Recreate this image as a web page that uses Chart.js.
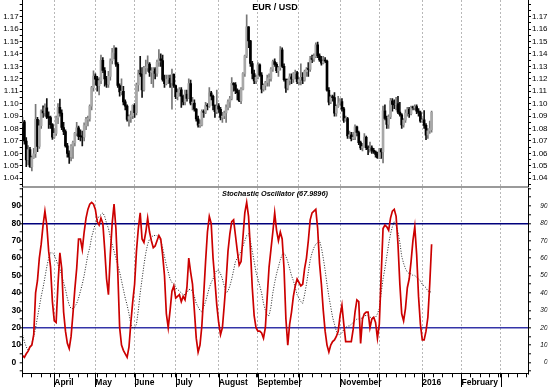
<!DOCTYPE html>
<html>
<head>
<meta charset="utf-8">
<title>EUR / USD</title>
<script src="https://cdn.jsdelivr.net/npm/chart.js@4.4.1/dist/chart.umd.min.js"></script>
<style>
  html, body { margin: 0; padding: 0; background: #fff; }
  #wrap { position: relative; width: 550px; height: 387px; overflow: hidden; }
  canvas { position: absolute; left: 0; }
  #priceChart { top: 0; }
  #stochChart { top: 188px; }
  .title { position: absolute; left: 0; width: 550px; text-align: center; font-family: "Liberation Sans", Arial, sans-serif;
           font-weight: bold; color: #000; line-height: 1; white-space: nowrap; }
  #priceTitle { top: 3px; font-size: 9px; }
  #stochTitle { top: 190px; font-size: 7.3px; font-style: italic; }
</style>
</head>
<body>
<div id="wrap">
  <canvas id="priceChart" width="550" height="188"></canvas>
  <canvas id="stochChart" width="550" height="199"></canvas>
  <div class="title" id="priceTitle">EUR / USD</div>
  <div class="title" id="stochTitle">Stochastic Oscillator (67.9896)</div>
</div>
<script>
Chart.defaults.font.family = '"Liberation Sans", Arial, sans-serif';
Chart.defaults.color = '#000';
Chart.defaults.animation = false;

// one bar per weekday, first bar Monday 9 March 2015, last bar 8 January 2016
const firstDay = Date.UTC(2015, 2, 9);
const axisDays = 271;
const monthLabels = ['April', 'May', 'June', 'July', 'August', 'September', '', 'November', '', '2016', 'February', ''];
const priceTicks = [1.04, 1.05, 1.06, 1.07, 1.08, 1.09, 1.10, 1.11, 1.12, 1.13, 1.14, 1.15, 1.16, 1.17];
const stochTicks = [0, 10, 20, 30, 40, 50, 60, 70, 80, 90];
const stochLevels = [80, 20];

const opens = [
  1.0842, 1.0853, 1.0700, 1.0548, 1.0630, 1.0494, 1.0566, 1.0597, 1.0874, 1.0656,
  1.0822, 1.0940, 1.0926, 1.0967, 1.0891, 1.0888, 1.0831, 1.0731, 1.0761, 1.0887,
  1.0970, 1.0924, 1.0808, 1.0776, 1.0660, 1.0600, 1.0569, 1.0659, 1.0686, 1.0763,
  1.0805, 1.0737, 1.0735, 1.0730, 1.0823, 1.0873, 1.0880, 1.0980, 1.1129, 1.1222,
  1.1198, 1.1145, 1.1185, 1.1348, 1.1267, 1.1199, 1.1155, 1.1219, 1.1345, 1.1408,
  1.1447, 1.1317, 1.1146, 1.1094, 1.1100, 1.1014, 1.0980, 1.0874, 1.0897, 1.0903,
  1.0987, 1.0927, 1.1151, 1.1245, 1.1237, 1.1111, 1.1288, 1.1288, 1.1318, 1.1251,
  1.1265, 1.1281, 1.1244, 1.1333, 1.1360, 1.1347, 1.1196, 1.1160, 1.1196, 1.1205,
  1.1164, 1.1236, 1.1146, 1.1056, 1.1090, 1.1111, 1.1060, 1.1014, 1.1077, 1.1042,
  1.1161, 1.1005, 1.1005, 1.0956, 1.0878, 1.0828, 1.0830, 1.0936, 1.0930, 1.0984,
  1.0979, 1.1087, 1.1060, 1.0985, 1.0935, 1.0983, 1.0955, 1.0890, 1.0901, 1.0925,
  1.0969, 1.1015, 1.1040, 1.1163, 1.1151, 1.1106, 1.1088, 1.1023, 1.1117, 1.1243,
  1.1385, 1.1618, 1.1505, 1.1323, 1.1243, 1.1184, 1.1211, 1.1313, 1.1230, 1.1117,
  1.1147, 1.1170, 1.1202, 1.1203, 1.1278, 1.1338, 1.1316, 1.1265, 1.1290, 1.1434,
  1.1300, 1.1194, 1.1125, 1.1187, 1.1215, 1.1197, 1.1242, 1.1251, 1.1176, 1.1194,
  1.1212, 1.1189, 1.1258, 1.1277, 1.1275, 1.1359, 1.1355, 1.1380, 1.1474, 1.1384,
  1.1351, 1.1326, 1.1344, 1.1342, 1.1108, 1.1012, 1.1056, 1.1049, 1.0924, 1.0978,
  1.1005, 1.1016, 1.0958, 1.0865, 1.0880, 1.0740, 1.0750, 1.0719, 1.0730, 1.0814,
  1.0768, 1.0687, 1.0643, 1.0654, 1.0730, 1.0646, 1.0633, 1.0645, 1.0624, 1.0612,
  1.0592, 1.0565, 1.0631, 1.0612, 1.0942, 1.0881, 1.0834, 1.0893, 1.1023, 1.0993,
  1.0990, 1.1000, 1.0932, 1.0911, 1.0830, 1.0867, 1.0924, 1.0956, 1.0920, 1.0970,
  1.0965, 1.0976, 1.0940, 1.0929, 1.0860, 1.0870, 1.0825, 1.0746, 1.0781, 1.0790
];
const highs = [
  1.0890, 1.0866, 1.0727, 1.0662, 1.0648, 1.0578, 1.0640, 1.0995, 1.0890, 1.0868,
  1.0950, 1.0982, 1.0998, 1.1040, 1.0935, 1.0900, 1.0840, 1.0800, 1.0900, 1.1000,
  1.1037, 1.0950, 1.0850, 1.0790, 1.0680, 1.0620, 1.0670, 1.0700, 1.0770, 1.0849,
  1.0820, 1.0790, 1.0780, 1.0845, 1.0890, 1.0900, 1.0990, 1.1140, 1.1265, 1.1240,
  1.1220, 1.1210, 1.1390, 1.1370, 1.1290, 1.1220, 1.1260, 1.1360, 1.1445, 1.1467,
  1.1450, 1.1330, 1.1160, 1.1200, 1.1140, 1.1030, 1.0990, 1.0910, 1.0940, 1.0990,
  1.1000, 1.1165, 1.1270, 1.1380, 1.1290, 1.1300, 1.1350, 1.1385, 1.1330, 1.1290,
  1.1290, 1.1290, 1.1350, 1.1436, 1.1400, 1.1390, 1.1230, 1.1230, 1.1230, 1.1230,
  1.1278, 1.1240, 1.1150, 1.1120, 1.1130, 1.1130, 1.1070, 1.1110, 1.1110, 1.1200,
  1.1190, 1.1050, 1.1030, 1.0960, 1.0900, 1.0870, 1.0950, 1.0950, 1.1010, 1.1000,
  1.1130, 1.1100, 1.1070, 1.0990, 1.1110, 1.1000, 1.0970, 1.0930, 1.0940, 1.0990,
  1.1030, 1.1060, 1.1210, 1.1170, 1.1170, 1.1120, 1.1110, 1.1130, 1.1250, 1.1390,
  1.1714, 1.1620, 1.1510, 1.1340, 1.1270, 1.1230, 1.1330, 1.1320, 1.1250, 1.1160,
  1.1180, 1.1230, 1.1240, 1.1290, 1.1350, 1.1360, 1.1330, 1.1300, 1.1460, 1.1450,
  1.1320, 1.1200, 1.1200, 1.1240, 1.1240, 1.1250, 1.1270, 1.1260, 1.1210, 1.1320,
  1.1250, 1.1270, 1.1290, 1.1330, 1.1380, 1.1390, 1.1400, 1.1490, 1.1495, 1.1400,
  1.1380, 1.1380, 1.1370, 1.1350, 1.1130, 1.1070, 1.1070, 1.1090, 1.0990, 1.1060,
  1.1040, 1.1040, 1.0970, 1.0900, 1.0890, 1.0780, 1.0770, 1.0770, 1.0830, 1.0820,
  1.0780, 1.0700, 1.0680, 1.0760, 1.0740, 1.0660, 1.0690, 1.0660, 1.0640, 1.0620,
  1.0610, 1.0640, 1.0640, 1.0980, 1.0990, 1.0900, 1.0910, 1.1042, 1.1040, 1.1030,
  1.1050, 1.1060, 1.1010, 1.0920, 1.0880, 1.0950, 1.0970, 1.0970, 1.0980, 1.0980,
  1.0990, 1.0990, 1.0960, 1.0940, 1.0880, 1.0945, 1.0840, 1.0800, 1.0860, 1.0940
];
const lows = [
  1.0812, 1.0674, 1.0493, 1.0507, 1.0487, 1.0458, 1.0560, 1.0567, 1.0613, 1.0640,
  1.0800, 1.0890, 1.0900, 1.0880, 1.0800, 1.0800, 1.0712, 1.0720, 1.0745, 1.0840,
  1.0900, 1.0790, 1.0750, 1.0650, 1.0570, 1.0520, 1.0540, 1.0560, 1.0660, 1.0740,
  1.0710, 1.0700, 1.0660, 1.0700, 1.0790, 1.0820, 1.0860, 1.0950, 1.1100, 1.1150,
  1.1100, 1.1070, 1.1160, 1.1250, 1.1140, 1.1130, 1.1130, 1.1190, 1.1320, 1.1360,
  1.1300, 1.1130, 1.1060, 1.1070, 1.0990, 1.0950, 1.0860, 1.0818, 1.0850, 1.0880,
  1.0890, 1.0910, 1.1100, 1.1220, 1.1050, 1.1100, 1.1240, 1.1260, 1.1220, 1.1160,
  1.1130, 1.1200, 1.1220, 1.1300, 1.1300, 1.1180, 1.1130, 1.1150, 1.1160, 1.1130,
  1.0955, 1.1130, 1.1040, 1.1030, 1.1060, 1.0970, 1.0990, 1.0990, 1.1020, 1.1040,
  1.0990, 1.0950, 1.0940, 1.0860, 1.0810, 1.0808, 1.0820, 1.0890, 1.0920, 1.0950,
  1.0970, 1.1030, 1.0950, 1.0890, 1.0920, 1.0930, 1.0870, 1.0850, 1.0880, 1.0850,
  1.0950, 1.0970, 1.1030, 1.1100, 1.1080, 1.1030, 1.1017, 1.1000, 1.1110, 1.1220,
  1.1370, 1.1450, 1.1300, 1.1200, 1.1160, 1.1160, 1.1200, 1.1220, 1.1087, 1.1100,
  1.1110, 1.1140, 1.1140, 1.1180, 1.1260, 1.1300, 1.1250, 1.1220, 1.1270, 1.1290,
  1.1180, 1.1090, 1.1110, 1.1150, 1.1160, 1.1170, 1.1200, 1.1160, 1.1150, 1.1150,
  1.1160, 1.1180, 1.1220, 1.1220, 1.1260, 1.1330, 1.1340, 1.1370, 1.1370, 1.1340,
  1.1310, 1.1320, 1.1330, 1.1100, 1.0990, 1.1000, 1.1020, 1.0900, 1.0900, 1.0970,
  1.0990, 1.0940, 1.0850, 1.0860, 1.0720, 1.0720, 1.0700, 1.0710, 1.0710, 1.0740,
  1.0670, 1.0630, 1.0620, 1.0650, 1.0630, 1.0590, 1.0610, 1.0600, 1.0600, 1.0570,
  1.0560, 1.0560, 1.0560, 1.0524, 1.0870, 1.0800, 1.0800, 1.0880, 1.0940, 1.0960,
  1.0950, 1.0920, 1.0900, 1.0800, 1.0810, 1.0850, 1.0900, 1.0890, 1.0910, 1.0950,
  1.0950, 1.0920, 1.0900, 1.0850, 1.0850, 1.0800, 1.0711, 1.0720, 1.0760, 1.0770
];
const closes = [
  1.0853, 1.0700, 1.0548, 1.0630, 1.0494, 1.0566, 1.0597, 1.0874, 1.0656, 1.0822,
  1.0940, 1.0926, 1.0967, 1.0891, 1.0888, 1.0831, 1.0731, 1.0761, 1.0887, 1.0970,
  1.0924, 1.0808, 1.0776, 1.0660, 1.0600, 1.0569, 1.0659, 1.0686, 1.0763, 1.0805,
  1.0737, 1.0735, 1.0730, 1.0823, 1.0873, 1.0880, 1.0980, 1.1129, 1.1222, 1.1198,
  1.1145, 1.1185, 1.1348, 1.1267, 1.1199, 1.1155, 1.1219, 1.1345, 1.1408, 1.1447,
  1.1317, 1.1146, 1.1094, 1.1100, 1.1014, 1.0980, 1.0874, 1.0897, 1.0903, 1.0987,
  1.0927, 1.1151, 1.1245, 1.1237, 1.1111, 1.1288, 1.1288, 1.1318, 1.1251, 1.1265,
  1.1281, 1.1244, 1.1333, 1.1360, 1.1347, 1.1196, 1.1160, 1.1196, 1.1205, 1.1164,
  1.1236, 1.1146, 1.1056, 1.1090, 1.1111, 1.1060, 1.1014, 1.1077, 1.1042, 1.1161,
  1.1005, 1.1005, 1.0956, 1.0878, 1.0828, 1.0830, 1.0936, 1.0930, 1.0984, 1.0979,
  1.1087, 1.1060, 1.0985, 1.0935, 1.0983, 1.0955, 1.0890, 1.0901, 1.0925, 1.0969,
  1.1015, 1.1040, 1.1163, 1.1151, 1.1106, 1.1088, 1.1023, 1.1117, 1.1243, 1.1385,
  1.1618, 1.1505, 1.1323, 1.1243, 1.1184, 1.1211, 1.1313, 1.1230, 1.1117, 1.1147,
  1.1170, 1.1202, 1.1203, 1.1278, 1.1338, 1.1316, 1.1265, 1.1290, 1.1434, 1.1300,
  1.1194, 1.1125, 1.1187, 1.1215, 1.1197, 1.1242, 1.1251, 1.1176, 1.1194, 1.1212,
  1.1189, 1.1258, 1.1277, 1.1275, 1.1359, 1.1355, 1.1380, 1.1474, 1.1384, 1.1351,
  1.1326, 1.1344, 1.1342, 1.1108, 1.1012, 1.1056, 1.1049, 1.0924, 1.0978, 1.1005,
  1.1016, 1.0958, 1.0865, 1.0880, 1.0740, 1.0750, 1.0719, 1.0730, 1.0814, 1.0768,
  1.0687, 1.0643, 1.0654, 1.0730, 1.0646, 1.0633, 1.0645, 1.0624, 1.0612, 1.0592,
  1.0565, 1.0631, 1.0612, 1.0942, 1.0881, 1.0834, 1.0893, 1.1023, 1.0993, 1.0990,
  1.1000, 1.0932, 1.0911, 1.0830, 1.0867, 1.0924, 1.0956, 1.0920, 1.0970, 1.0965,
  1.0976, 1.0940, 1.0929, 1.0860, 1.0870, 1.0825, 1.0746, 1.0781, 1.0800, 1.0930
];
// %K (red) and %D (dotted)
const kLine = [
  4, 3, 5, 6.5, 9, 10, 16, 40, 47, 60,
  68, 79, 87, 79, 64, 55, 35, 24, 23, 45,
  63, 54, 29, 18, 11, 8, 15, 28, 42, 54,
  71, 71, 65, 75, 83, 88, 91, 92, 91, 88,
  81, 79, 83, 80, 65, 48, 39, 62, 80, 91,
  77, 52, 20, 10, 7, 5, 3, 9, 23, 35,
  45, 64, 77, 86, 71, 69, 75, 83, 75, 70,
  66, 67, 70, 73, 71, 62, 50, 28, 20, 30,
  41, 44, 37, 38, 39, 35, 38, 36, 43, 60,
  52, 45, 30, 14, 6, 10, 21, 39, 58, 75,
  84, 80, 60, 47, 33, 23, 16, 20, 33, 47,
  64, 74, 81, 82, 73, 64, 56, 58, 72, 86,
  92, 84, 65, 43, 27, 20, 18, 18, 17, 14,
  20, 38, 55, 65, 75, 86, 76, 70, 75, 71,
  54, 25, 10, 22, 29, 38, 44, 48, 46, 44,
  45, 54, 60, 70, 82, 86, 87, 88, 77, 57,
  45, 30, 18, 10, 6, 10, 12, 13, 15, 18,
  27, 33, 22, 12, 12, 12, 12, 19, 29, 36,
  35, 11, 25, 28, 29, 29, 20, 25, 26, 23,
  14, 22, 50, 77, 79, 78, 76, 83, 87, 88,
  84, 68, 45, 28, 24, 31, 43, 48, 58, 70,
  78, 62, 38, 22, 13, 13, 18, 26, 45, 67.9896
];
const dLine = [
  16, 12, 9, 7, 8, 11, 15, 20, 26, 32,
  38, 43, 49, 55, 60, 63, 63, 62, 59, 56,
  54, 50, 46, 42, 37, 33, 31, 31, 32, 34,
  37, 41, 45, 50, 56, 62, 66, 72, 76, 80,
  82, 84, 85, 86, 84, 80, 77, 72, 68, 64,
  60, 56, 52, 47, 42, 37, 33, 28, 22, 20,
  20, 22, 30, 40, 48, 56, 63, 68, 71, 72,
  73, 73, 73, 72, 70, 66, 61, 56, 52, 48,
  46, 45, 43, 42, 41, 40, 39, 39, 40, 42,
  42, 41, 38, 34, 32, 30, 29, 32, 35, 39,
  43, 46, 48, 51, 53, 53, 51, 48, 44, 40,
  41, 44, 48, 53, 58, 60, 62, 64, 67, 70,
  73, 74, 70, 64, 58, 52, 48, 44, 40, 34,
  30, 27, 27, 32, 40, 46, 51, 55, 59, 62,
  63, 61, 58, 54, 50, 47, 43, 39, 37, 35,
  34, 39, 45, 52, 59, 63, 66, 68, 69, 70,
  66, 60, 53, 45, 38, 32, 26, 22, 18, 16,
  16, 17, 19, 20, 21, 21, 22, 23, 24, 25,
  25, 25, 26, 27, 27, 27, 26, 26, 25, 26,
  28, 31, 40, 48, 54, 61, 68, 74, 78, 81,
  79, 75, 69, 61, 57, 54, 52, 51, 51, 50,
  50, 49, 48, 47, 45, 44, 43, 41, 41, 40
];

// weekday calendar of the time axis
const weekdays = [];
for (let t = firstDay; weekdays.length < axisDays; t += 864e5) {
  const d = new Date(t);
  if (d.getUTCDay() !== 0 && d.getUTCDay() !== 6) weekdays.push(d);
}
const monthStarts = weekdays
  .map((d, i) => (i > 0 && d.getUTCMonth() !== weekdays[i - 1].getUTCMonth()) ? i : -1)
  .filter(i => i >= 0);
const mondays = weekdays.map((d, i) => d.getUTCDay() === 1 ? i : -1).filter(i => i >= 0);
const xTicks = [...new Set([...mondays, ...monthStarts])].sort((a, b) => a - b);

const priceGrid = [];
for (let k = 207; k <= 236; k++) priceGrid.push(+(k * 0.005).toFixed(3));
const stochGrid = [];
for (let v = -5; v <= 100; v += 5) stochGrid.push(v);

// no extra room for overflowing labels: plot edges stay where the reference has them
function noPad(s) {
  s.paddingTop = 0; s.paddingBottom = 0; s.paddingLeft = 0; s.paddingRight = 0;
}

function xAxis(bottom) {
  return {
    type: 'linear', min: 0.1, max: 270.6, offset: false,
    afterBuildTicks: s => { s.ticks = xTicks.map(v => ({ value: v })); },
    afterFit: s => { s.height = bottom ? 13.7 : 1.3; noPad(s); },
    grid: {
      offset: false,
      color: c => (c.tick && monthStarts.includes(c.tick.value)) ? '#b8b8b8' : 'rgba(0,0,0,0)',
      lineWidth: 1, drawTicks: bottom, tickLength: 4, tickColor: '#000', tickWidth: 1, tickBorderDash: [1, 0]
    },
    border: { color: bottom ? '#000' : '#9a9a9a', width: bottom ? 1 : 2, dash: [2, 2] },
    ticks: {
      display: bottom, autoSkip: false, maxRotation: 0, minRotation: 0, align: 'start', padding: 0,
      font: { size: 8.5, weight: 'bold' },
      callback: v => { const k = monthStarts.indexOf(v); return k >= 0 ? monthLabels[k] : ''; }
    }
  };
}

function priceAxis(pos) {
  return {
    type: 'linear', position: pos, min: 1.0332, max: 1.1834, beginAtZero: false,
    afterBuildTicks: s => { s.ticks = priceGrid.map(v => ({ value: v })); },
    afterFit: s => { s.width = pos === 'left' ? 22.7 : 22; noPad(s); },
    grid: { drawOnChartArea: false, tickLength: 3, tickColor: '#000', tickWidth: 1 },
    border: { color: '#000', width: 1 },
    ticks: {
      autoSkip: false, padding: 1, font: { size: 8 },
      callback: v => { const p = priceTicks.find(t => Math.abs(t - v) < 1e-6); return p === undefined ? '' : p.toFixed(2); }
    }
  };
}

function stochAxis(pos) {
  return {
    type: 'linear', position: pos, min: -6.2, max: 100.3,
    afterBuildTicks: s => { s.ticks = stochGrid.map(v => ({ value: v })); },
    afterFit: s => { s.width = pos === 'left' ? 11.2 : 19.5; noPad(s); },
    grid: {
      drawOnChartArea: pos === 'left',
      color: c => {
        const v = c.tick && c.tick.value;
        if (v === stochLevels[0]) return '#00007c';
        if (v === stochLevels[1]) return '#3434a8';
        return 'rgba(0,0,0,0)';
      },
      lineWidth: 1.6, tickLength: 3, tickColor: '#000', tickWidth: 1
    },
    border: { color: '#000', width: 1 },
    ticks: {
      autoSkip: false, crossAlign: 'far', padding: 1,
      font: pos === 'left' ? { size: 8.5, weight: 'bold' } : { size: 6.5, style: 'italic' },
      callback: v => stochTicks.includes(v) ? String(v) : ''
    }
  };
}

// long month separators under the time axis
const monthTicks = {
  id: 'monthTicks',
  afterDraw(chart) {
    const { ctx, chartArea, scales } = chart;
    ctx.save();
    ctx.strokeStyle = '#000';
    ctx.lineWidth = 1;
    monthStarts.forEach(v => {
      const px = Math.round(scales.x.getPixelForValue(v)) + 0.5;
      if (px < chartArea.left || px > chartArea.right) return;
      ctx.beginPath();
      ctx.moveTo(px, chartArea.bottom);
      ctx.lineTo(px, chart.height);
      ctx.stroke();
    });
    ctx.restore();
  }
};

const isUp = closes.map((c, i) => c >= opens[i]);

new Chart(document.getElementById('priceChart'), {
  type: 'bar',
  data: {
    datasets: [
      {
        label: 'body',
        data: opens.map((o, i) => ({ x: i, y: [o, closes[i]] })),
        backgroundColor: isUp.map(u => u ? '#a8a8a8' : '#000'),
        barThickness: 2, minBarLength: 1, grouped: false, order: 0
      },
      {
        label: 'range',
        data: lows.map((l, i) => ({ x: i, y: [l, highs[i]] })),
        backgroundColor: isUp.map(u => u ? '#777' : '#111'),
        barThickness: 1, grouped: false, order: 1
      }
    ]
  },
  options: {
    responsive: false, events: [],
    layout: { padding: 0 },
    plugins: { legend: { display: false }, tooltip: { enabled: false } },
    scales: { x: xAxis(false), y: priceAxis('left'), y2: priceAxis('right') }
  }
});

new Chart(document.getElementById('stochChart'), {
  type: 'line',
  data: {
    datasets: [
      {
        label: '%K',
        data: kLine.map((v, i) => ({ x: i, y: v })),
        borderColor: '#cc0000', borderWidth: 1.7, pointRadius: 0, tension: 0, order: 0
      },
      {
        label: '%D',
        data: dLine.map((v, i) => ({ x: i, y: v })),
        borderColor: '#222', borderWidth: 1, borderDash: [1, 1.6], pointRadius: 0, tension: 0, order: 1
      }
    ]
  },
  options: {
    responsive: false, events: [],
    layout: { padding: { left: 11.5, right: 2.5, top: 0, bottom: 0 } },
    plugins: { legend: { display: false }, tooltip: { enabled: false } },
    scales: { x: xAxis(true), y: stochAxis('left'), y2: stochAxis('right') }
  },
  plugins: [monthTicks]
});
</script>
</body>
</html>
